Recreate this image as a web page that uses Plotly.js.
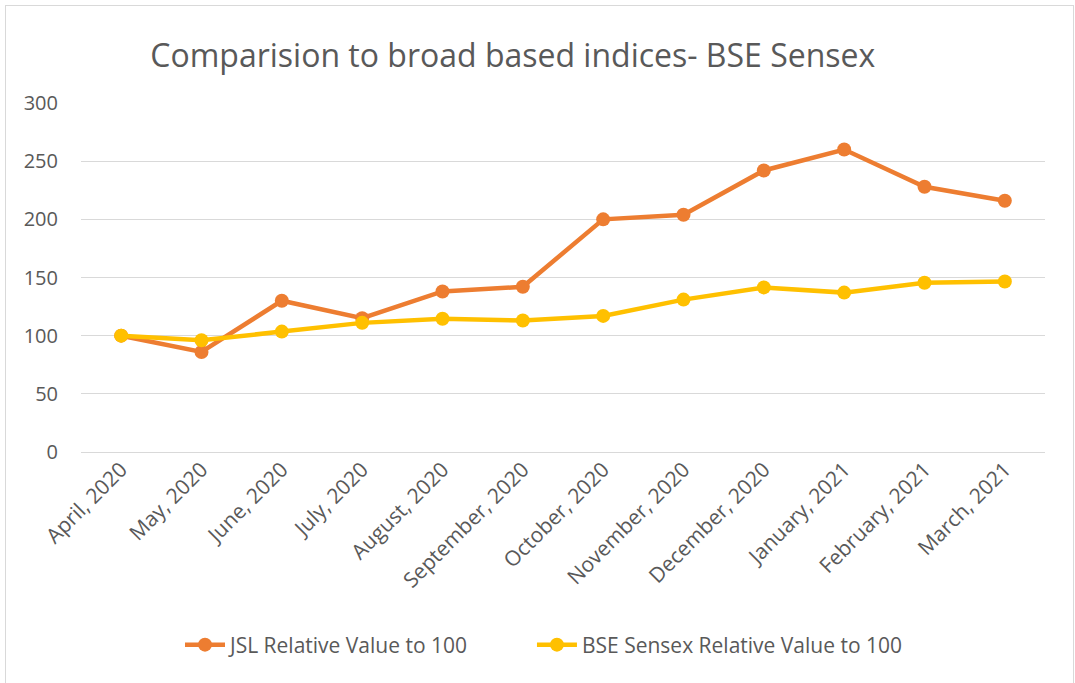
<!DOCTYPE html>
<html>
<head>
<meta charset="utf-8">
<script src="https://cdn.plot.ly/plotly-3.0.1.min.js"></script>
<style>
html,body{margin:0;padding:0;background:#fff;}
#wrap{position:relative;width:1075px;height:683px;overflow:hidden;}
#frame{position:absolute;left:5px;top:5px;width:1069px;height:700px;border:1px solid #d9d9d9;box-sizing:border-box;pointer-events:none;z-index:2;}
#chart{position:absolute;left:0;top:0;width:1075px;height:683px;}
</style>
</head>
<body>
<div id="wrap"><div id="chart"></div><div id="frame"></div></div>
<script>
const months = ["April, 2020","May, 2020","June, 2020","July, 2020","August, 2020","September, 2020","October, 2020","November, 2020","December, 2020","January, 2021","February, 2021","March, 2021"];
const jslValues = [100, 86, 130, 115, 138, 142, 200, 204, 242, 260, 228, 216];
const bseValues = [100, 96, 103.5, 111, 114.5, 113, 117, 131, 141.5, 137, 145.5, 146.5];
const yTicks = [0, 50, 100, 150, 200, 250, 300];

const fontFam = '"Open Sans", "Noto Sans", sans-serif';
const grey = '#595959';

const traces = [
  {x: months, y: jslValues, name: 'JSL Relative Value to 100', type: 'scatter', mode: 'lines+markers',
   line: {color: '#ED7D31', width: 4.5}, marker: {color: '#ED7D31', size: 14}, legend: 'legend'},
  {x: months, y: bseValues, name: 'BSE Sensex Relative Value to 100', type: 'scatter', mode: 'lines+markers',
   line: {color: '#FFC000', width: 4.5}, marker: {color: '#FFC000', size: 14}, legend: 'legend2'}
];

const legendBase = {orientation: 'h', xanchor: 'left', y: -0.553, yanchor: 'middle',
  font: {size: 21, color: grey}, itemwidth: 40, bgcolor: 'rgba(0,0,0,0)'};

const layout = {
  width: 1075, height: 683,
  margin: {l: 81, r: 30, t: 103, b: 231},
  paper_bgcolor: '#fff', plot_bgcolor: '#fff',
  font: {family: fontFam, color: grey, size: 20},
  title: {text: 'Comparision to broad based indices- BSE Sensex', font: {family: fontFam, size: 32, color: grey},
          xref: 'container', yref: 'container', x: 0.477, y: 0.918, xanchor: 'center', yanchor: 'middle'},
  xaxis: {type: 'category', range: [-0.5, 11.5], tickangle: -45, showgrid: false, zeroline: false,
          showline: false, ticks: '', tickfont: {size: 21, color: grey}, fixedrange: true},
  yaxis: {range: [0, 300], tickvals: yTicks, showgrid: true, gridcolor: '#D9D9D9', gridwidth: 1,
          zeroline: true, zerolinecolor: '#D9D9D9', zerolinewidth: 1, showline: false, ticks: '',
          ticklabelstandoff: 22, tickfont: {size: 20, color: grey}, fixedrange: true},
  legend: Object.assign({}, legendBase, {x: 0.1027}),
  legend2: Object.assign({}, legendBase, {x: 0.4678}),
  showlegend: true
};

Plotly.newPlot('chart', traces, layout, {displayModeBar: false, staticPlot: true});
</script>
</body>
</html>
